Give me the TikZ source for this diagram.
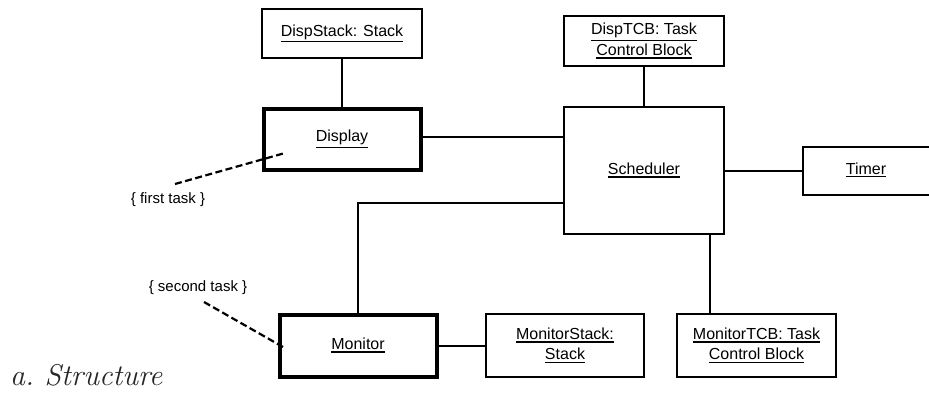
\documentclass[tikz,border=0pt]{standalone}
\usepackage{fontspec}
\setsansfont{Liberation Sans}
\newfontfamily\notefont{Liberation Sans}
\usetikzlibrary{calc}
\newcommand{\myul}[1]{\leavevmode\vtop{\hbox{#1}\kern1.6pt\hrule height 1.4pt}}
\begin{document}
\begin{tikzpicture}[x=1pt,y=-1pt,
  box/.style={draw,line width=2pt,inner sep=0pt,align=center,
    font=\sffamily\fontsize{16}{20.5}\selectfont},
  taskbox/.style={box,line width=4pt},
  link/.style={line width=2pt},
  note/.style={draw,line width=2.2pt,dash pattern=on 7pt off 3.5pt},
  notetext/.style={font=\notefont\fontsize{15}{17}\selectfont,inner sep=0pt}]
\useasboundingbox (0,0) rectangle (929,394);
\node[box,minimum width=160,minimum height=49] (dstack) at (342,33.5) {\myul{DispStack: Stack}};
\node[taskbox,minimum width=157,minimum height=61] (display) at (342,139) {\myul{Display}};
\node[box,minimum width=160,minimum height=50] (dtcb) at (644,41) {\myul{DispTCB: Task}\\\myul{Control Block}};
\node[box,minimum width=160,minimum height=127] (sched) at (644,170.5) {\myul{Scheduler}};
\node[box,minimum width=131,minimum height=48] (timer) at (868.5,170.5) {};
\node[font=\sffamily\fontsize{16}{20}\selectfont,inner sep=0pt] (timertext) at (866,170) {\myul{Timer}};
\node[taskbox,minimum width=157,minimum height=62] (monitor) at (358,345.5) {\myul{Monitor}};
\node[box,minimum width=158,minimum height=63] (mstack) at (565,345.5) {\myul{MonitorStack:}\\\myul{Stack}};
\node[box,minimum width=159,minimum height=63] (mtcb) at (756.5,345.5) {\myul{MonitorTCB: Task}\\\myul{Control Block}};

\draw[link] (dstack.south) -- (display.north);
\draw[link] ([yshift=2pt]display.east) -- ([yshift=2pt]display.east -| sched.west);
\draw[link] (dtcb.south) -- (sched.north);
\draw[link] (sched.east) -- (timer.west);
\draw[link] (monitor.north) |- ([yshift=32pt]sched.south west);
\draw[link] ([xshift=-15pt]sched.south east) -- ([xshift=-15pt]sched.south east |- mtcb.north);
\draw[link] (monitor.east) -- (mstack.west);

\coordinate (n1a) at (175,184);
\coordinate (n1b) at (285,153);
\coordinate (n2a) at (204,302);
\coordinate (n2b) at (283,347);
\draw[note] (n1a) -- (n1b);
\draw[note] (n2a) -- (n2b);
\node[notetext] (t1) at (168,200) {\{ first task \}};
\node[notetext] (t2) at (198,288) {\{ second task \}};
\node[anchor=base west,inner sep=0pt,font=\itshape\fontsize{30}{34}\selectfont,text=black!85] (cap) at (10,385) {a.\ Structure};
\end{tikzpicture}
\end{document}
